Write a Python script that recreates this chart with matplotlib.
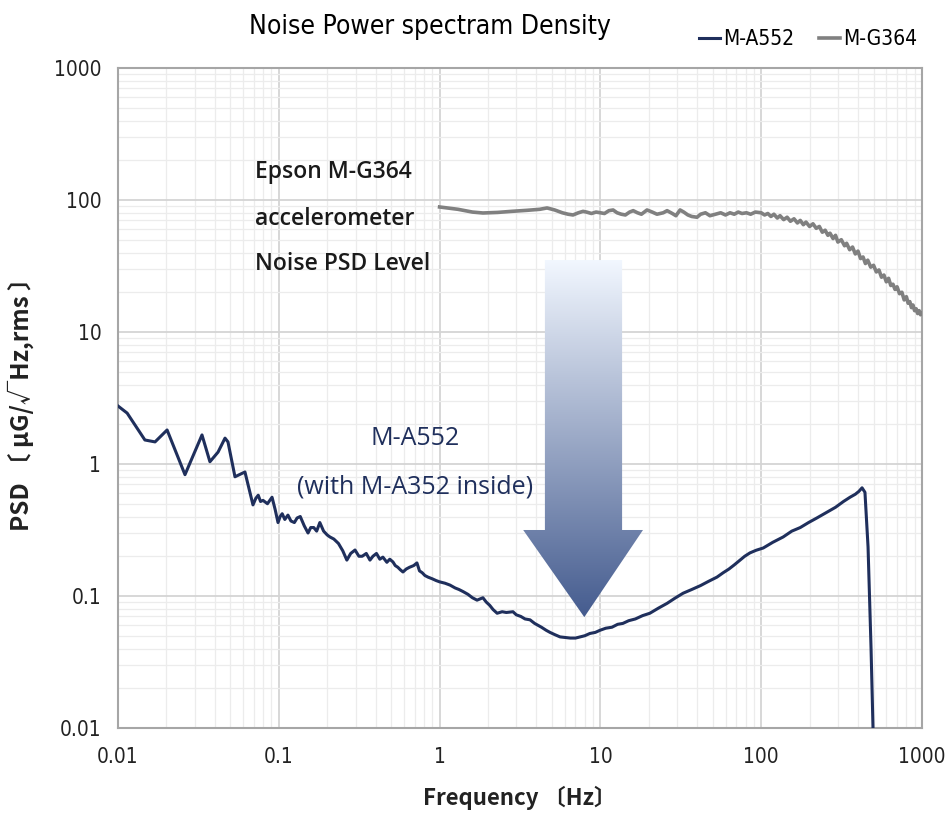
import numpy as np
import matplotlib
matplotlib.use("Agg")
import matplotlib.pyplot as plt
from matplotlib import font_manager
from matplotlib.patches import Polygon
from matplotlib.ticker import LogLocator, NullFormatter, FixedLocator

# M-A552 noise PSD
a552_freq = [0.01, 0.0114, 0.0147, 0.0170, 0.0202, 0.0261, 0.0333, 0.0373, 0.0419,
             0.0463, 0.0483, 0.0534, 0.0616, 0.0691, 0.072, 0.0745, 0.077, 0.0798, 0.085,
             0.0908, 0.095, 0.0989, 0.102, 0.105, 0.109, 0.114, 0.119, 0.125, 0.13, 0.136,
             0.144, 0.152, 0.158, 0.165, 0.172, 0.180, 0.19, 0.2, 0.208, 0.22, 0.235, 0.25,
             0.265, 0.28, 0.298, 0.315, 0.33, 0.35, 0.369, 0.385, 0.405, 0.425, 0.444, 0.47,
             0.49, 0.513, 0.53, 0.55, 0.57, 0.592, 0.62, 0.65, 0.69, 0.723, 0.75, 0.78, 0.81,
             0.847, 0.9, 0.95, 1.0, 1.08, 1.16, 1.25, 1.32, 1.4, 1.5, 1.6, 1.71, 1.86, 1.95,
             2.05, 2.15, 2.28, 2.45, 2.6, 2.86, 3.0, 3.2, 3.4, 3.65, 3.9, 4.3, 4.6, 4.86, 5.2,
             5.61, 6.0, 6.5, 7.0, 7.47, 8.0, 8.6, 9.3, 9.95, 10.8, 11.8, 12.8, 13.8, 15, 16.5,
             18.3, 20.3, 23, 26, 29, 32.7, 37, 42, 47, 53.1, 58, 63, 68, 73.8, 79, 85.1, 93,
             103, 118, 137, 155, 175, 197, 222, 255, 290, 325, 357, 385, 405, 424, 442, 462,
             482, 496]
a552_psd = [2.75, 2.43, 1.52, 1.47, 1.81, 0.83, 1.66, 1.04, 1.23,
            1.57, 1.47, 0.80, 0.87, 0.49, 0.55, 0.58, 0.52, 0.53, 0.50,
            0.56, 0.45, 0.36, 0.40, 0.42, 0.38, 0.41, 0.37, 0.36, 0.39, 0.40,
            0.34, 0.30, 0.33, 0.33, 0.31, 0.36, 0.31, 0.29, 0.28, 0.27, 0.25, 0.22,
            0.187, 0.21, 0.223, 0.20, 0.20, 0.21, 0.187, 0.20, 0.21, 0.19, 0.197, 0.18,
            0.19, 0.181, 0.17, 0.165, 0.158, 0.152, 0.16, 0.165, 0.17, 0.178, 0.155, 0.15, 0.143,
            0.139, 0.135, 0.131, 0.128, 0.125, 0.121, 0.115, 0.112, 0.108, 0.103, 0.097, 0.093, 0.097, 0.09,
            0.085, 0.079, 0.074, 0.076, 0.075, 0.076, 0.072, 0.070, 0.067, 0.066, 0.062, 0.058, 0.055, 0.053, 0.051,
            0.049, 0.0485, 0.048, 0.048, 0.049, 0.050, 0.052, 0.053, 0.055, 0.057, 0.058, 0.061, 0.062, 0.065, 0.067,
            0.071, 0.074, 0.081, 0.088, 0.096, 0.105, 0.112, 0.12, 0.129, 0.139, 0.15, 0.16, 0.172, 0.187, 0.2, 0.212, 0.222,
            0.231, 0.255, 0.28, 0.31, 0.33, 0.36, 0.39, 0.43, 0.47, 0.52, 0.56, 0.59, 0.62, 0.66, 0.61, 0.235,
            0.041, 0.01]

# M-G364 noise PSD
g364_freq = [1.0, 1.3, 1.6, 1.86, 2.3, 2.8, 3.5, 4.2, 4.66, 5.2, 5.8, 6.3, 6.76, 7.3, 7.8,
             8.2, 8.8, 9.4, 10, 10.6, 11.3, 12, 12.7, 13.5, 14.3, 15.2, 16, 17, 18, 19.5, 21,
             22.5, 24.6, 26, 28, 29.5, 31.3, 33, 35, 37, 39.9, 42, 45, 48, 52, 56, 60, 64, 68,
             72, 76, 81, 86, 92, 100, 105, 110, 115, 120, 126, 131, 138, 145, 152, 160, 168,
             175, 183, 190, 200, 210, 220, 230, 240, 250, 260, 268, 280, 290, 300, 315, 330,
             340, 355, 370, 385, 400, 415, 430, 445, 460, 480, 500, 520, 540, 560, 580, 600,
             620, 640, 660, 680, 700, 725, 750, 775, 800, 820, 840, 860, 879, 900, 920, 940,
             960, 980, 1000]
g364_psd = [88.5, 85, 81, 79.7, 80.5, 82, 83.5, 85, 87, 84, 80, 78, 77, 80, 82,
            81, 79, 81, 80, 79, 83, 84, 80, 78, 77, 81, 83, 80, 78, 84, 81,
            78, 80, 83, 79, 76, 84, 81, 77, 75, 74, 78, 80, 76, 78, 80, 77, 80, 78,
            81, 79, 80, 78, 81, 80, 77, 79, 75, 78, 73, 76, 71, 74, 69, 72, 67,
            70, 65, 68, 63, 66, 61, 63, 57, 59, 54, 56, 51, 54, 48, 50, 45,
            47, 42, 44, 39, 41, 36, 37, 33, 35, 31, 32, 28.5, 29.5, 26, 27, 24,
            25.5, 22.5, 23, 21, 22, 19.5, 20, 17.5, 18.5, 16.5, 17, 15.3, 16, 14.5, 15, 13.8,
            14.5, 13.5, 13.9]

xticks = [0.01, 0.1, 1, 10, 100, 1000]
xtick_labels = ["0.01", "0.1", "1", "10", "100", "1000"]
yticks = [0.01, 0.1, 1, 10, 100, 1000]
ytick_labels = ["0.01", "0.1", "1", "10", "100", "1000"]

navy = "#1f2f5c"
gray = "#808080"

# pick a narrow face if there is one
names = {f.name for f in font_manager.fontManager.ttflist}
narrow_stretch = "normal"
if "Liberation Sans Narrow" in names:
    narrow = ["Liberation Sans Narrow", "DejaVu Sans"]
elif any(f.name == "DejaVu Sans" and f.stretch == "condensed" for f in font_manager.fontManager.ttflist):
    narrow = ["DejaVu Sans"]
    narrow_stretch = "condensed"
else:
    narrow = ["Liberation Sans", "DejaVu Sans"]
cjk = ["Noto Sans CJK JP", "DejaVu Sans"]

fig = plt.figure(figsize=(9.5, 8.32), dpi=100)
ax = fig.add_axes([0.1242, 0.125, 0.8463, 0.7933])

ax.plot(a552_freq, a552_psd, color=navy, lw=2.2, label="M-A552", zorder=3)
ax.plot(g364_freq, g364_psd, color=gray, lw=2.6, label="M-G364", zorder=3)

ax.set_xscale("log")
ax.set_yscale("log")
ax.set_xlim(0.01, 1000)
ax.set_ylim(0.01, 1000)

ax.xaxis.set_major_locator(FixedLocator(xticks))
ax.set_xticklabels(xtick_labels)
ax.yaxis.set_major_locator(FixedLocator(yticks))
ax.set_yticklabels(ytick_labels)
ax.xaxis.set_minor_locator(LogLocator(base=10, subs=np.arange(2, 10), numticks=20))
ax.yaxis.set_minor_locator(LogLocator(base=10, subs=np.arange(2, 10), numticks=20))
ax.xaxis.set_minor_formatter(NullFormatter())
ax.yaxis.set_minor_formatter(NullFormatter())

ax.grid(True, which="major", color="#d4d4d4", lw=1.3)
ax.grid(True, which="minor", color="#ececec", lw=0.9)
ax.tick_params(which="both", length=0)
ax.tick_params(axis="x", pad=14)
ax.tick_params(axis="y", pad=12)
for lab in ax.get_xticklabels() + ax.get_yticklabels():
    lab.set_fontfamily(narrow)
    lab.set_fontstretch(narrow_stretch)
    lab.set_fontsize(15)
    lab.set_color("#222222")
for s in ax.spines.values():
    s.set_color("#a6a6a6")
    s.set_linewidth(1.5)

ax.set_xlabel("Frequency \u3014Hz\u3015", fontsize=16, fontweight="semibold", labelpad=13,
              family=cjk, color="#222222")
ax.set_ylabel("PSD \u3014 \u03bcG/\u221aHz,rms \u3015", fontsize=17.5, fontweight="bold", labelpad=14,
              family=cjk, color="#222222")

fig.text(0.453, 0.968, "Noise Power spectram Density", ha="center", va="center",
         fontsize=19, family=narrow, fontstretch=narrow_stretch)

leg = fig.legend(loc="center right", bbox_to_anchor=(0.985, 0.953), ncol=2, frameon=False,
                 handlelength=1.0, handletextpad=0.15, columnspacing=1.2,
                 prop={"family": narrow, "size": 15, "stretch": narrow_stretch})

# annotations (axes fractions)
for yy, txt in [(0.843, "Epson M-G364"), (0.771, "accelerometer"), (0.703, "Noise PSD Level")]:
    ax.text(0.171, yy, txt, transform=ax.transAxes, fontsize=16.5, color="#1a1a1a",
            fontweight="semibold", family=["Open Sans", "DejaVu Sans"], va="center",
            fontstretch="condensed")
ax.text(0.37, 0.439, "M-A552", transform=ax.transAxes, fontsize=18, color=navy,
        ha="center", va="center", family=["Open Sans", "DejaVu Sans"], fontweight="medium")
ax.text(0.37, 0.365, "(with M-A352 inside)", transform=ax.transAxes, fontsize=18, color=navy,
        ha="center", va="center", family=["Open Sans", "DejaVu Sans"], fontweight="medium")

# gradient arrow on an overlay axes
ov = fig.add_axes(ax.get_position(), facecolor="none")
ov.set_xlim(0, 1)
ov.set_ylim(0, 1)
ov.axis("off")
arrow_pts = [(0.531, 0.709), (0.627, 0.709), (0.627, 0.300), (0.653, 0.300),
             (0.580, 0.168), (0.504, 0.300), (0.531, 0.300)]
poly = Polygon(arrow_pts, closed=True, facecolor="none", edgecolor="none")
ov.add_patch(poly)
top_c = np.array([0.95, 0.97, 1.0])
bot_c = np.array([0.27, 0.36, 0.56])
t = np.linspace(0, 1, 256)[:, None]
grad = (bot_c * (1 - t) + top_c * t)[:, None, :]
img = ov.imshow(grad, extent=[0.50, 0.66, 0.168, 0.709], origin="lower", aspect="auto",
                interpolation="bilinear")
img.set_clip_path(poly)

fig.savefig("out.png", dpi=100)
